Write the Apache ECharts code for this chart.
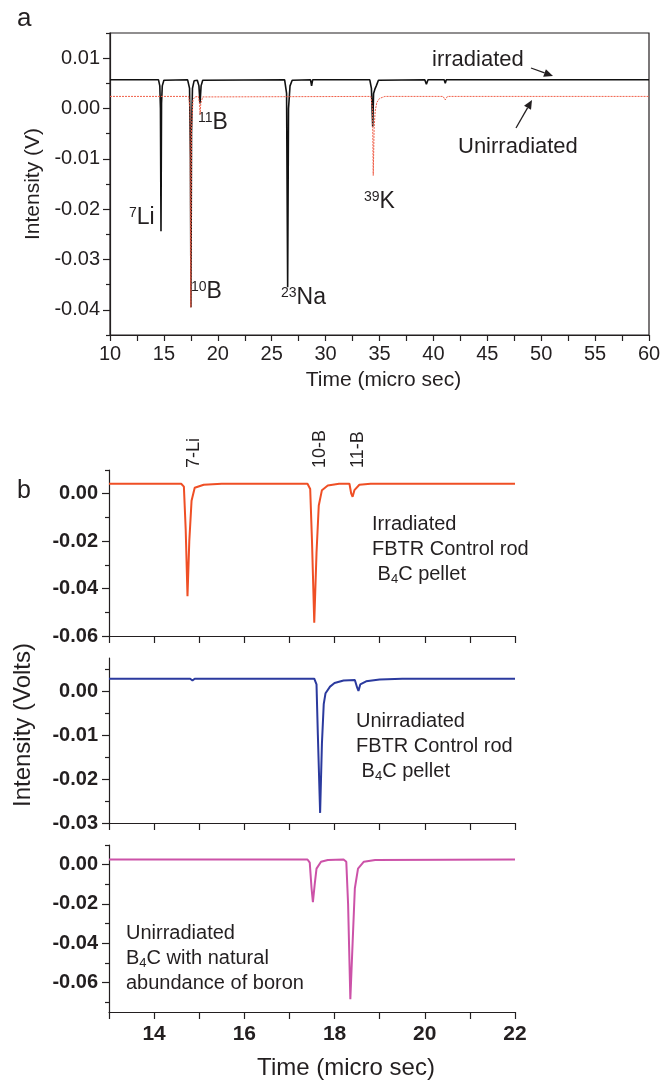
<!DOCTYPE html>
<html>
<head>
<meta charset="utf-8">
<script src="https://cdn.jsdelivr.net/npm/echarts@6/dist/echarts.min.js"></script>
<style>
  html, body { margin: 0; padding: 0; background: #fff; }
  #chart { width: 661px; height: 1080px; }
</style>
</head>
<body>
<div id="chart"></div>
<script>
// ---- data ----
// panel a : time (micro sec) vs intensity (V)
var irradiatedA = [[10,0.0057],[14.5,0.0057],[14.62,0.0045],[14.68,0.0],[14.73,-0.0244],[14.78,0.001],[14.85,0.0045],[15.0,0.0056],
  [17.2,0.0057],[17.38,0.004],[17.46,-0.01],[17.51,-0.0395],[17.56,-0.005],[17.65,0.004],[17.8,0.0055],[18.1,0.0056],
  [18.25,0.0045],[18.35,0.001],[18.45,0.0045],[18.6,0.0056],[26.2,0.0057],[26.38,0.003],[26.48,-0.0355],[26.56,0.0],
  [26.7,0.0045],[26.9,0.0056],[28.6,0.0057],[28.7,0.0045],[28.8,0.0057],[34.1,0.0057],[34.25,0.004],[34.37,-0.0036],
  [34.45,0.003],[34.6,0.004],[34.7,0.0045],[34.9,0.0056],[39.2,0.0057],[39.35,0.0048],[39.5,0.0057],[41.0,0.0057],
  [41.1,0.005],[41.2,0.0057],[60,0.0057]];
var unirradiatedA = [[10,0.0024],[17.3,0.0024],[17.42,0.0],[17.5,-0.0395],[17.56,-0.004],[17.7,0.0018],[17.9,0.0023],
  [18.2,0.0024],[18.3,0.001],[18.36,-0.0012],[18.42,0.001],[18.6,0.0023],[34.2,0.0024],[34.35,0.0],[34.42,-0.0133],
  [34.5,-0.004],[34.6,-0.0005],[34.75,0.0012],[35.0,0.002],[35.5,0.0024],[40.9,0.0024],[41.1,0.0017],[41.3,0.0024],[60,0.0024]];

// panel b : three spectra
var irradiatedRod = [[13,0.0042],[14.6,0.0042],[14.66,0.003],[14.7,-0.015],[14.74,-0.0432],[14.78,-0.02],[14.83,-0.003],
  [14.9,0.0025],[15.1,0.0038],[15.5,0.0042],[17.4,0.0042],[17.46,0.002],[17.5,-0.02],[17.55,-0.0544],[17.6,-0.025],
  [17.65,-0.005],[17.72,0.0015],[17.85,0.0035],[18.1,0.0042],[18.33,0.0042],[18.37,0.0],[18.4,-0.0013],[18.44,0.0015],
  [18.55,0.0038],[18.8,0.0042],[22,0.0042]];
var unirradiatedRod = [[13,0.0028],[14.8,0.0028],[14.85,0.0024],[14.9,0.0028],[17.55,0.0028],[17.6,0.0015],[17.63,-0.01],
  [17.68,-0.0277],[17.72,-0.012],[17.76,-0.003],[17.8,-0.0005],[17.9,0.001],[18.0,0.0018],[18.2,0.0024],[18.45,0.0025],
  [18.5,0.0008],[18.53,0.0],[18.57,0.0015],[18.7,0.0022],[19,0.0026],[19.5,0.0028],[22,0.0028]];
var naturalB4C = [[13,0.0026],[17.4,0.0026],[17.45,0.001],[17.49,-0.012],[17.52,-0.0191],[17.56,-0.01],[17.6,-0.002],
  [17.7,0.0015],[17.85,0.0024],[18.2,0.0026],[18.26,0.0015],[18.3,-0.02],[18.35,-0.0685],[18.4,-0.04],[18.45,-0.012],
  [18.52,-0.002],[18.65,0.0015],[18.9,0.0024],[22,0.0026]];

// tick values
var aYMajor = [-0.04,-0.03,-0.02,-0.01,0.0,0.01];
var aYMinor = [-0.045,-0.035,-0.025,-0.015,-0.005,0.005,0.015];
var b1YMajor = [-0.06,-0.04,-0.02,0.0];
var b1YMinor = [-0.05,-0.03,-0.01,0.01];
var b2YMajor = [-0.03,-0.02,-0.01,0.0];
var b2YMinor = [-0.025,-0.015,-0.005,0.005];
var b3YMajor = [-0.06,-0.04,-0.02,0.0];
var b3YMinor = [-0.07,-0.05,-0.03,-0.01,0.01];
var bXTicks = [13,14,15,16,17,18,19,20,21,22];
var bXLabels = [14,16,18,20,22];

var FONT = 'Liberation Sans, Arial, Helvetica, sans-serif';
var INK = '#231f20';

var chart = echarts.init(document.getElementById('chart'), null, {renderer: 'canvas'});

function fmt2(v){ return (Math.abs(v) < 1e-9 ? 0 : v).toFixed(2); }

function bXAxis(grid, showLabels){
  return {
    type: 'value', gridIndex: grid, min: 13, max: 22,
    axisLine: {onZero: false, lineStyle: {color: INK, width: 1.2}},
    axisTick: {show: true, length: 7, customValues: bXTicks, lineStyle: {color: INK, width: 1.2}},
    axisLabel: {show: showLabels, customValues: bXLabels, margin: 12, color: INK, fontSize: 21, fontWeight: 'bold', fontFamily: FONT},
    splitLine: {show: false}
  };
}
function bYAxis(grid, min, max, major){
  return {
    type: 'value', gridIndex: grid, position: 'left', min: min, max: max,
    axisLine: {show: true, lineStyle: {color: INK, width: 1.2}},
    axisTick: {show: true, length: 7, customValues: major, lineStyle: {color: INK, width: 1.2}},
    axisLabel: {customValues: major, formatter: fmt2, margin: 11, color: INK, fontSize: 20, fontWeight: 'bold', fontFamily: FONT},
    splitLine: {show: false}
  };
}
function minorYAxis(grid, min, max, minor){
  return {
    type: 'value', gridIndex: grid, position: 'left', min: min, max: max,
    axisLine: {show: false},
    axisTick: {show: true, length: 4, customValues: minor, lineStyle: {color: INK, width: 1.2}},
    axisLabel: {show: false, customValues: minor},
    splitLine: {show: false}
  };
}

function lbl(x, y, sup, main){
  return {
    type: 'text', x: x, y: y, silent: true,
    style: {
      text: '{s|' + sup + '}{m|' + main + '}',
      align: 'left', verticalAlign: 'middle',
      rich: {
        s: {fontSize: 14, lineHeight: 14, verticalAlign: 'top', fill: INK, fontFamily: FONT},
        m: {fontSize: 23, lineHeight: 23, fill: INK, fontFamily: FONT}
      }
    }
  };
}
function plain(x, y, txt, size, extra){
  var el = {
    type: 'text', x: x, y: y, silent: true,
    style: {text: txt, fontSize: size, fill: INK, fontFamily: FONT, align: 'left', verticalAlign: 'middle'}
  };
  if (extra) { for (var k in extra) el.style[k] = extra[k]; }
  return el;
}
function block(x, y, txt){
  return {
    type: 'text', x: x, y: y, silent: true,
    style: {
      text: txt, align: 'left', verticalAlign: 'top',
      rich: {
        n: {fontSize: 20, lineHeight: 25, fill: INK, fontFamily: FONT},
        d: {fontSize: 13, lineHeight: 25, verticalAlign: 'bottom', padding: [0, 0, 1, 0], fill: INK, fontFamily: FONT}
      }
    }
  };
}
function arrow(x1, y1, x2, y2){
  var ang = Math.atan2(y2 - y1, x2 - x1), L = 9, W = 4;
  var bx = x2 - L * Math.cos(ang), by = y2 - L * Math.sin(ang);
  var px = -Math.sin(ang) * W, py = Math.cos(ang) * W;
  return [
    {type: 'line', silent: true, shape: {x1: x1, y1: y1, x2: bx, y2: by}, style: {stroke: INK, lineWidth: 1.3}},
    {type: 'polygon', silent: true, shape: {points: [[x2, y2], [bx + px, by + py], [bx - px, by - py]]}, style: {fill: INK}}
  ];
}

var graphics = [
  plain(17, 19, 'a', 26),
  plain(17, 491, 'b', 25),
  plain(432, 60, 'irradiated', 22),
  plain(458, 147, 'Unirradiated', 22),
  lbl(129, 218, '7', 'Li'),
  lbl(191, 292, '10', 'B'),
  lbl(281, 298, '23', 'Na'),
  lbl(364, 202, '39', 'K'),
  lbl(198, 123, '11', 'B'),
  plain(194, 468, '7-Li', 18, {}),
  plain(320, 468, '10-B', 18, {}),
  plain(358, 468, '11-B', 18, {}),
  block(372, 512, '{n|Irradiated}\n{n|FBTR Control rod}\n{n| B}{d|4}{n|C pellet}'),
  block(356, 709, '{n|Unirradiated}\n{n|FBTR Control rod}\n{n| B}{d|4}{n|C pellet}'),
  block(126, 921, '{n|Unirradiated}\n{n|B}{d|4}{n|C with natural}\n{n|abundance of boron}'),
  plain(23, 725, 'Intensity (Volts)', 24, {align: 'center'}),
  plain(346, 1068, 'Time (micro sec)', 24, {align: 'center'})
];
// rotate the peak captions in panel b
[9, 10, 11].forEach(function(i){ graphics[i].rotation = Math.PI / 2; graphics[i].style.verticalAlign = 'middle'; });
graphics[15].rotation = Math.PI / 2;
graphics = graphics.concat(arrow(531, 68, 553, 76), arrow(516, 128, 532, 100));

var option = {
  animation: false,
  backgroundColor: '#fff',
  textStyle: {fontFamily: FONT},
  grid: [
    {left: 110, top: 33, width: 539, height: 302, show: true, borderColor: INK, borderWidth: 1.2, outerBoundsMode: 'none'},
    {left: 109, top: 470, width: 406, height: 166, outerBoundsMode: 'none'},
    {left: 109, top: 658, width: 406, height: 165, outerBoundsMode: 'none'},
    {left: 109, top: 845, width: 406, height: 167, outerBoundsMode: 'none'}
  ],
  xAxis: [
    {
      type: 'value', gridIndex: 0, min: 10, max: 60, interval: 5,
      name: 'Time (micro sec)', nameLocation: 'middle', nameGap: 35,
      nameTextStyle: {fontSize: 21, color: INK, fontFamily: FONT, padding: [0, 0, 0, 8]},
      axisLine: {onZero: false, lineStyle: {color: INK, width: 1.2}},
      axisTick: {length: 6, lineStyle: {color: INK, width: 1.2}},
      minorTick: {show: true, splitNumber: 2, length: 6, lineStyle: {color: INK, width: 1.2}},
      axisLabel: {margin: 9, color: INK, fontSize: 20, fontFamily: FONT},
      splitLine: {show: false}, minorSplitLine: {show: false}
    },
    bXAxis(1, false),
    bXAxis(2, false),
    bXAxis(3, true)
  ],
  yAxis: [
    {
      type: 'value', gridIndex: 0, position: 'left', min: -0.045, max: 0.015,
      name: 'Intensity (V)', nameLocation: 'middle', nameGap: 63,
      nameTextStyle: {fontSize: 21, color: INK, fontFamily: FONT},
      axisLine: {show: true, lineStyle: {color: INK, width: 1.2}},
      axisTick: {show: true, length: 7, customValues: aYMajor, lineStyle: {color: INK, width: 1.2}},
      axisLabel: {customValues: aYMajor, formatter: fmt2, margin: 10, color: INK, fontSize: 20, fontFamily: FONT},
      splitLine: {show: false}
    },
    minorYAxis(0, -0.045, 0.015, aYMinor),
    bYAxis(1, -0.06, 0.01, b1YMajor),
    minorYAxis(1, -0.06, 0.01, b1YMinor),
    bYAxis(2, -0.03, 0.0075, b2YMajor),
    minorYAxis(2, -0.03, 0.0075, b2YMinor),
    bYAxis(3, -0.075, 0.01, b3YMajor),
    minorYAxis(3, -0.075, 0.01, b3YMinor)
  ],
  series: [
    {type: 'line', name: 'irradiated', xAxisIndex: 0, yAxisIndex: 0, data: irradiatedA, showSymbol: false, silent: true,
      lineStyle: {color: '#111', width: 1.6}},
    {type: 'line', name: 'Unirradiated', xAxisIndex: 0, yAxisIndex: 0, data: unirradiatedA, showSymbol: false, silent: true,
      lineStyle: {color: '#f0604a', width: 1, type: [2, 1]}},
    {type: 'line', name: 'Irradiated rod', xAxisIndex: 1, yAxisIndex: 2, data: irradiatedRod, showSymbol: false, silent: true,
      lineStyle: {color: '#ef4f25', width: 2}},
    {type: 'line', name: 'Unirradiated rod', xAxisIndex: 2, yAxisIndex: 4, data: unirradiatedRod, showSymbol: false, silent: true,
      lineStyle: {color: '#2b3a9e', width: 2}},
    {type: 'line', name: 'Natural B4C', xAxisIndex: 3, yAxisIndex: 6, data: naturalB4C, showSymbol: false, silent: true,
      lineStyle: {color: '#cc52a8', width: 2}}
  ],
  graphic: graphics
};

chart.setOption(option);
</script>
</body>
</html>
